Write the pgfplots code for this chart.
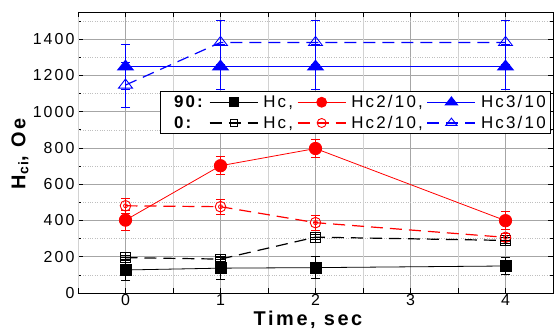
\documentclass[border=0pt]{standalone}
\usepackage{fontspec}
\setmainfont{Liberation Sans}[LetterSpace=13]
\usepackage{pgfplots}
\pgfplotsset{compat=1.18}
\begin{document}
\begin{tikzpicture}
\begin{axis}[
  scale only axis, width=475bp, height=281bp,
  xmin=-0.5, xmax=4.5, ymin=0, ymax=1550,
  xtick={0,1,2,3,4}, ytick={0,200,...,1400},
  minor ytick={100,300,...,1500},
  xmajorgrids, ymajorgrids, yminorgrids,
  major grid style={gray!70, line width=0.7bp},
  minor grid style={gray!50, dotted, line width=0.6bp},
  extra x ticks={-0.5,0.5,1.5,2.5,3.5},
  extra x tick labels={},
  extra x tick style={grid=major, major grid style={gray!35, solid, line width=0.6bp}},
  axis line style={line width=0.9bp},
  tick style={black, line width=0.7bp},
  major tick length=5bp, minor tick length=3bp,
  /pgf/number format/assume math mode=true,
  /pgf/number format/1000 sep={},
  tick label style={font=\fontsize{16}{16}\selectfont},
  xticklabel style={yshift=2bp},
  xlabel={\textbf{Time, sec}},
  ylabel={\textbf{H\textsubscript{ci}, Oe}},
  label style={font=\fontsize{20}{20}\selectfont},
  xlabel style={at={(axis description cs:0.487,-0.116)}, anchor=base},
  ylabel style={at={(axis description cs:-0.122,0.5)}, anchor=center},
  legend columns=4,
  legend style={at={(rel axis cs:0.996,0.719)}, anchor=north east, draw=black, line width=0.8bp, fill=white,
    font=\fontsize{17}{18}\selectfont, inner xsep=3bp, inner ysep=2bp, row sep=3bp,
    /tikz/every even column/.append style={column sep=2bp},
    /tikz/every odd column/.append style={column sep=3bp}},
  legend cell align=left,
  legend image code/.code={\draw[mark repeat=2,mark phase=2] plot coordinates {(0bp,0bp) (24bp,0bp) (48bp,0bp)};},
  error bars/y dir=both, error bars/y explicit,
  error bars/error mark options={rotate=90, mark size=4.5bp, line width=0.8bp},
]
% 90 Hc
\addplot[black, line width=0.8bp, mark=square*, mark size=5.5bp, mark options={solid},
  error bars/error bar style={solid, line width=0.8bp}, forget plot]
  coordinates {(0,127) +- (0,60) (1,137) +- (0,60) (2,140) +- (0,62) (4,149) +- (0,48)};
% 90 Hc2/10
\addplot[red, line width=0.8bp, mark=*, mark size=6.2bp, mark options={solid},
  error bars/error bar style={solid, line width=0.8bp}, forget plot]
  coordinates {(0,402) +- (0,55) (1,702) +- (0,50) (2,797) +- (0,48) (4,399) +- (0,50)};
% 90 Hc3/10
\addplot[blue, line width=1bp, mark=triangle*, mark size=9bp, mark options={solid, yscale=0.72},
  error bars/error bar style={solid, line width=0.9bp}, forget plot]
  coordinates {(0,1248) +- (0,125) (1,1248) +- (0,125) (2,1248) +- (0,125) (4,1248) +- (0,125)};
% 0 Hc
\addplot[black, line width=1.2bp, dash pattern=on 12bp off 7bp, mark=square, mark size=5bp,
  mark options={solid, fill=white, line width=0.8bp},
  error bars/error bar style={solid, line width=0.8bp}, forget plot]
  coordinates {(0,195) +- (0,15) (1,187) +- (0,15) (2,308) +- (0,15) (4,290) +- (0,15)};
% 0 Hc2/10
\addplot[red, line width=1.2bp, dash pattern=on 12bp off 7bp, mark=o, mark size=5.3bp,
  mark options={solid, fill=white, line width=0.9bp},
  error bars/error bar style={solid, line width=0.8bp}, forget plot]
  coordinates {(0,481) +- (0,40) (1,476) +- (0,40) (2,388) +- (0,42) (4,307) +- (0,22)};
% 0 Hc3/10
\addplot[blue, line width=1.2bp, dash pattern=on 12bp off 7bp, mark=triangle, mark size=8bp,
  mark options={solid, fill=white, line width=0.9bp, yscale=0.75},
  error bars/error bar style={solid, line width=0.9bp}, forget plot]
  coordinates {(0,1147) +- (0,125) (1,1382) +- (0,120) (2,1382) +- (0,120) (4,1382) +- (0,120)};
% inner details of open markers
\addplot[only marks, black, mark=+, mark size=5bp, mark options={line width=0.7bp}, forget plot]
  coordinates {(0,195) (1,187) (2,308) (4,290)};
\addplot[only marks, red, mark=o, mark size=2bp, mark options={line width=0.8bp}, forget plot]
  coordinates {(0,481) (1,476) (2,388) (4,307)};
% legend
\addlegendimage{empty legend}\addlegendentry{\hspace{6bp}\textbf{90:}}
\addlegendimage{black, line width=0.8bp, mark=square*, mark size=4.5bp}\addlegendentry{Hc,}
\addlegendimage{red, line width=0.8bp, mark=*, mark size=5bp}\addlegendentry{Hc2/10,}
\addlegendimage{blue, line width=1bp, mark=triangle*, mark size=7bp, mark options={yscale=0.75}}\addlegendentry{Hc3/10}
\addlegendimage{empty legend}\addlegendentry{\hspace{6bp}\textbf{0:}}
\addlegendimage{black, line width=1.2bp, dash pattern=on 12bp off 7bp, mark=square, mark size=3.5bp, mark options={solid, fill=white, line width=0.8bp}}\addlegendentry{Hc,}
\addlegendimage{red, line width=1.2bp, dash pattern=on 12bp off 7bp, mark=o, mark size=4.5bp, mark options={solid, fill=white, line width=0.9bp}}\addlegendentry{Hc2/10,}
\addlegendimage{blue, line width=1.2bp, dash pattern=on 12bp off 7bp, mark=triangle, mark size=6.5bp, mark options={solid, fill=white, line width=0.9bp, yscale=0.75}}\addlegendentry{Hc3/10}
\end{axis}
\pgfresetboundingbox
\path[use as bounding box] (-78bp,-36bp) rectangle (477bp,293bp);
\end{tikzpicture}
\end{document}
